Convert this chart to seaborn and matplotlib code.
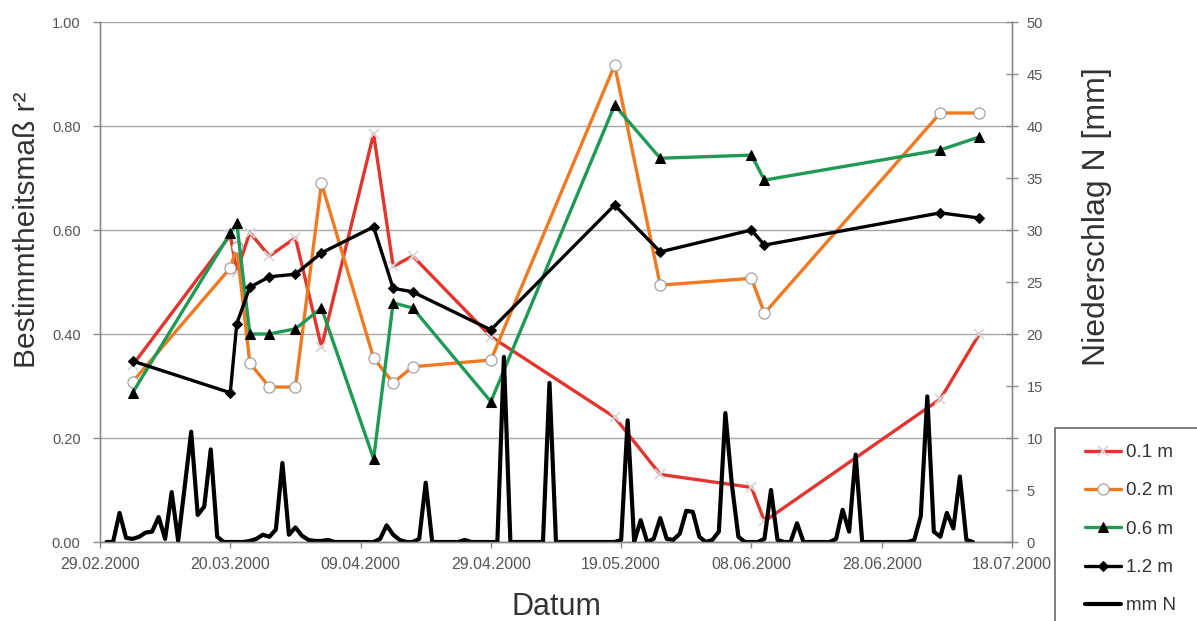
import matplotlib
matplotlib.use("Agg")
import matplotlib.pyplot as plt
import matplotlib.dates as mdates
from matplotlib.patches import Rectangle
import numpy as np
import pandas as pd
import seaborn as sns

# ---------------- data ----------------
meas_dates = ["2000-03-05", "2000-03-20", "2000-03-21", "2000-03-23", "2000-03-26",
              "2000-03-30", "2000-04-03", "2000-04-11", "2000-04-14", "2000-04-17",
              "2000-04-29", "2000-05-18", "2000-05-25", "2000-06-08", "2000-06-10",
              "2000-07-07", "2000-07-13"]
r2_01 = [0.34, 0.59, 0.52, 0.595, 0.55, 0.585, 0.375, 0.785, 0.53, 0.55,
         0.395, 0.24, 0.13, 0.105, 0.04, 0.275, 0.40]
r2_02 = [0.308, 0.527, 0.567, 0.344, 0.298, 0.298, 0.69, 0.354, 0.306, 0.337,
         0.35, 0.917, 0.494, 0.507, 0.44, 0.825, 0.825]
r2_06 = [0.287, 0.594, 0.613, 0.40, 0.40, 0.41, 0.45, 0.16, 0.46, 0.45,
         0.27, 0.84, 0.738, 0.744, 0.696, 0.754, 0.779]
r2_12 = [0.348, 0.287, 0.42, 0.49, 0.51, 0.515, 0.556, 0.606, 0.488, 0.481,
         0.408, 0.648, 0.558, 0.60, 0.571, 0.633, 0.623]
series_labels = ["0.1 m", "0.2 m", "0.6 m", "1.2 m"]

# daily precipitation [mm], starting 01.03.2000
rain_start = "2000-03-01"
rain_mm = [
    0.0, 0.0, 2.8, 0.4, 0.3, 0.5, 0.9, 1.0, 2.4, 0.3,      # 01.03 - 10.03
    4.8, 0.1, 5.3, 10.6, 2.6, 3.4, 8.9, 0.5, 0.0, 0.0,     # 11.03 - 20.03
    0.0, 0.0, 0.1, 0.3, 0.7, 0.5, 1.2, 7.6, 0.7, 1.4,      # 21.03 - 30.03
    0.6, 0.2, 0.1, 0.1, 0.2, 0.0, 0.0, 0.0, 0.0, 0.0,      # 31.03 - 09.04
    0.0, 0.0, 0.3, 1.6, 0.7, 0.2, 0.0, 0.0, 0.3, 5.7,      # 10.04 - 19.04
    0.0, 0.0, 0.0, 0.0, 0.0, 0.2, 0.0, 0.0, 0.0, 0.0,      # 20.04 - 29.04
    0.0, 17.8, 0.0, 0.0, 0.0, 0.0, 0.0, 0.0, 15.3, 0.0,    # 30.04 - 09.05
    0.0, 0.0, 0.0, 0.0, 0.0, 0.0, 0.0, 0.0, 0.0, 0.2,      # 10.05 - 19.05
    11.7, 0.0, 2.1, 0.0, 0.3, 2.3, 0.3, 0.2, 0.8, 3.0,     # 20.05 - 29.05
    2.9, 0.5, 0.0, 0.2, 1.0, 12.4, 5.5, 0.5, 0.0, 0.0,     # 30.05 - 08.06
    0.0, 0.3, 5.0, 0.2, 0.0, 0.0, 1.8, 0.0, 0.0, 0.0,      # 09.06 - 18.06
    0.0, 0.0, 0.3, 3.1, 1.0, 8.4, 0.0, 0.0, 0.0, 0.0,      # 19.06 - 28.06
    0.0, 0.0, 0.0, 0.0, 0.2, 2.5, 14.0, 1.0, 0.5, 2.8,     # 29.06 - 08.07
    1.3, 6.3, 0.2, 0.0,                                    # 09.07 - 12.07
]
rain_label = "mm N"

tick_dates = ["2000-02-29", "2000-03-20", "2000-04-09", "2000-04-29",
              "2000-05-19", "2000-06-08", "2000-06-28", "2000-07-18"]
r2_ticks = [0.0, 0.2, 0.4, 0.6, 0.8, 1.0]
mm_ticks = [0, 5, 10, 15, 20, 25, 30, 35, 40, 45, 50]

# ---------------- styling ----------------
sns.set_style("white")
plt.rcParams["font.family"] = ["Liberation Sans", "DejaVu Sans"]

W, H = 1197, 621
fig = plt.figure(figsize=(W / 100, H / 100), dpi=100)
ax = fig.add_axes([100 / W, 1 - 542 / H, 912 / W, 520 / H])
ax2 = ax.twinx()

df = pd.DataFrame({"Datum": pd.to_datetime(meas_dates)})
for lab, vals in zip(series_labels, [r2_01, r2_02, r2_06, r2_12]):
    df[lab] = vals
rain_df = pd.DataFrame({
    "Datum": pd.date_range(rain_start, periods=len(rain_mm), freq="D"),
    rain_label: rain_mm,
})

c_red, c_orange, c_green = "#e2352e", "#f07a22", "#1f9a55"
lw = 2.4
styles = {
    "0.1 m": dict(color=c_red, marker="x", markersize=7, markeredgecolor="#d8d8d8",
                  markeredgewidth=1.3),
    "0.2 m": dict(color=c_orange, marker="o", markersize=8, markerfacecolor="white",
                  markeredgecolor="#9a9a9a", markeredgewidth=0.8),
    "0.6 m": dict(color=c_green, marker="^", markersize=7.5, markerfacecolor="black",
                  markeredgecolor="black"),
    "1.2 m": dict(color="black", marker="D", markersize=5, markerfacecolor="black",
                  markeredgecolor="black"),
}
for lab in series_labels:
    sns.lineplot(data=df, x="Datum", y=lab, ax=ax, linewidth=lw, legend=False,
                 label=lab, **styles[lab])

sns.lineplot(data=rain_df, x="Datum", y=rain_label, ax=ax2, color="black",
             linewidth=3.0, legend=False, label=rain_label)

# axes limits & ticks
xt = pd.to_datetime(tick_dates)
ax.set_xlim(xt[0], xt[-1])
ax.set_xticks(xt)
ax.xaxis.set_major_formatter(mdates.DateFormatter("%d.%m.%Y"))
ax.set_ylim(0, 1)
ax.set_yticks(r2_ticks)
ax.set_yticklabels([f"{v:.2f}" for v in r2_ticks])
ax2.set_ylim(0, 50)
ax2.set_yticks(mm_ticks)
ax2.set_yticklabels([str(v) for v in mm_ticks])

ax.yaxis.grid(True, color="#a8a8a8", linewidth=1.0)
ax.xaxis.grid(False)
ax.set_axisbelow(True)

spine_c = "#8a8a8a"
for a in (ax, ax2):
    for s in a.spines.values():
        s.set_color(spine_c)
        s.set_linewidth(1.0)
    a.spines["top"].set_visible(False)

ax.tick_params(axis="y", direction="out", length=5, width=1, color=spine_c,
               labelsize=10.5, labelcolor="#555555", pad=9, left=True)
ax.tick_params(axis="x", direction="out", length=4, width=1, color=spine_c,
               labelsize=11.5, labelcolor="#555555", pad=7, bottom=True)
ax2.tick_params(axis="y", direction="inout", length=9, width=1, color=spine_c,
                labelsize=10.5, labelcolor="#555555", pad=6, right=True)

ax.set_xlabel("Datum", fontsize=22, color="#333333")
ax.xaxis.set_label_coords(0.5, -0.097)
ax.set_ylabel("Bestimmtheitsmaß r²", fontsize=21.5, color="#333333")
ax.yaxis.set_label_coords(-0.065, 0.60)
ax2.set_ylabel("Niederschlag N [mm]", fontsize=23, color="#333333")
ax2.yaxis.set_label_coords(1.077, 0.625)

# legend (frameless) + partial frame extending beyond the figure
handles = ax.get_lines()[:4] + [ax2.get_lines()[0]]
labels = series_labels + [rain_label]
leg = fig.legend(handles, labels, loc="upper left",
                 bbox_to_anchor=(1085 / W, 1 - 444 / H), frameon=False,
                 borderpad=0, borderaxespad=0, fontsize=13.5, labelspacing=1.13,
                 handlelength=1.9, handletextpad=0.3, labelcolor="#333333")
fig.patches.append(Rectangle((1055 / W, -0.2), 0.3, (1 - 428 / H) + 0.2,
                             transform=fig.transFigure, fill=False,
                             edgecolor="#6a6a6a", linewidth=1.2))

fig.savefig("out.png", dpi=100)
